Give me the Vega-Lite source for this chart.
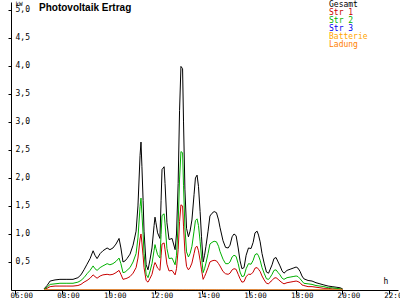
{
  "$schema": "https://vega.github.io/schema/vega-lite/v6.json",
  "autosize": "none",
  "width": 387,
  "height": 288,
  "padding": {"left": 11, "top": 2, "right": 2, "bottom": 10},
  "background": "white",
  "config": {
    "view": {"stroke": null},
    "font": "DejaVu Sans Mono",
    "axis": {"labelFont": "DejaVu Sans Mono", "titleFont": "DejaVu Sans Mono", "labelColor": "black", "titleColor": "black", "domainColor": "black", "tickColor": "black", "grid": false}
  },
  "title": {
    "text": "Photovoltaik Ertrag",
    "anchor": "start",
    "frame": "group",
    "font": "Liberation Sans",
    "fontSize": 10,
    "fontWeight": "bold",
    "color": "black",
    "offset": 0,
    "dx": 28,
    "dy": 13
  },
  "data": {
    "values": [
      {"t": 7.23, "Gesamt": 0.02, "Str 1": 0.01, "Str 2": 0.01, "Str 3": 0, "Batterie": 0, "Ladung": 0},
      {"t": 7.36, "Gesamt": 0.08, "Str 1": 0.03, "Str 2": 0.05, "Str 3": 0, "Batterie": 0, "Ladung": 0},
      {"t": 7.49, "Gesamt": 0.16, "Str 1": 0.06, "Str 2": 0.10, "Str 3": 0, "Batterie": 0, "Ladung": 0},
      {"t": 7.70, "Gesamt": 0.18, "Str 1": 0.07, "Str 2": 0.11, "Str 3": 0, "Batterie": 0, "Ladung": 0},
      {"t": 7.91, "Gesamt": 0.19, "Str 1": 0.07, "Str 2": 0.12, "Str 3": 0, "Batterie": 0, "Ladung": 0},
      {"t": 8.21, "Gesamt": 0.19, "Str 1": 0.07, "Str 2": 0.12, "Str 3": 0, "Batterie": 0, "Ladung": 0},
      {"t": 8.47, "Gesamt": 0.19, "Str 1": 0.07, "Str 2": 0.12, "Str 3": 0, "Batterie": 0, "Ladung": 0},
      {"t": 8.68, "Gesamt": 0.22, "Str 1": 0.08, "Str 2": 0.14, "Str 3": 0, "Batterie": 0, "Ladung": 0},
      {"t": 8.81, "Gesamt": 0.27, "Str 1": 0.10, "Str 2": 0.17, "Str 3": 0, "Batterie": 0, "Ladung": 0},
      {"t": 8.94, "Gesamt": 0.36, "Str 1": 0.14, "Str 2": 0.22, "Str 3": 0, "Batterie": 0, "Ladung": 0},
      {"t": 9.07, "Gesamt": 0.46, "Str 1": 0.17, "Str 2": 0.29, "Str 3": 0, "Batterie": 0, "Ladung": 0},
      {"t": 9.20, "Gesamt": 0.56, "Str 1": 0.21, "Str 2": 0.35, "Str 3": 0, "Batterie": 0, "Ladung": 0},
      {"t": 9.33, "Gesamt": 0.70, "Str 1": 0.27, "Str 2": 0.43, "Str 3": 0, "Batterie": 0, "Ladung": 0},
      {"t": 9.41, "Gesamt": 0.62, "Str 1": 0.24, "Str 2": 0.38, "Str 3": 0, "Batterie": 0, "Ladung": 0},
      {"t": 9.50, "Gesamt": 0.56, "Str 1": 0.21, "Str 2": 0.35, "Str 3": 0, "Batterie": 0, "Ladung": 0},
      {"t": 9.63, "Gesamt": 0.65, "Str 1": 0.25, "Str 2": 0.40, "Str 3": 0, "Batterie": 0, "Ladung": 0},
      {"t": 9.75, "Gesamt": 0.70, "Str 1": 0.27, "Str 2": 0.43, "Str 3": 0, "Batterie": 0, "Ladung": 0},
      {"t": 9.93, "Gesamt": 0.75, "Str 1": 0.28, "Str 2": 0.47, "Str 3": 0, "Batterie": 0, "Ladung": 0},
      {"t": 10.05, "Gesamt": 0.72, "Str 1": 0.27, "Str 2": 0.45, "Str 3": 0, "Batterie": 0, "Ladung": 0},
      {"t": 10.18, "Gesamt": 0.75, "Str 1": 0.28, "Str 2": 0.47, "Str 3": 0, "Batterie": 0, "Ladung": 0},
      {"t": 10.31, "Gesamt": 0.82, "Str 1": 0.31, "Str 2": 0.51, "Str 3": 0, "Batterie": 0, "Ladung": 0},
      {"t": 10.44, "Gesamt": 0.92, "Str 1": 0.35, "Str 2": 0.57, "Str 3": 0, "Batterie": 0, "Ladung": 0},
      {"t": 10.52, "Gesamt": 0.75, "Str 1": 0.28, "Str 2": 0.47, "Str 3": 0, "Batterie": 0, "Ladung": 0},
      {"t": 10.61, "Gesamt": 0.50, "Str 1": 0.19, "Str 2": 0.31, "Str 3": 0, "Batterie": 0, "Ladung": 0},
      {"t": 10.70, "Gesamt": 0.52, "Str 1": 0.20, "Str 2": 0.32, "Str 3": 0, "Batterie": 0, "Ladung": 0},
      {"t": 10.78, "Gesamt": 0.56, "Str 1": 0.21, "Str 2": 0.35, "Str 3": 0, "Batterie": 0, "Ladung": 0},
      {"t": 10.91, "Gesamt": 0.64, "Str 1": 0.24, "Str 2": 0.40, "Str 3": 0, "Batterie": 0, "Ladung": 0},
      {"t": 11.04, "Gesamt": 0.80, "Str 1": 0.30, "Str 2": 0.50, "Str 3": 0, "Batterie": 0, "Ladung": 0},
      {"t": 11.17, "Gesamt": 1.05, "Str 1": 0.40, "Str 2": 0.65, "Str 3": 0, "Batterie": 0, "Ladung": 0},
      {"t": 11.25, "Gesamt": 1.50, "Str 1": 0.57, "Str 2": 0.93, "Str 3": 0, "Batterie": 0, "Ladung": 0},
      {"t": 11.34, "Gesamt": 2.40, "Str 1": 0.91, "Str 2": 1.49, "Str 3": 0, "Batterie": 0, "Ladung": 0},
      {"t": 11.38, "Gesamt": 2.64, "Str 1": 1.00, "Str 2": 1.64, "Str 3": 0, "Batterie": 0, "Ladung": 0},
      {"t": 11.42, "Gesamt": 2.20, "Str 1": 0.84, "Str 2": 1.36, "Str 3": 0, "Batterie": 0, "Ladung": 0},
      {"t": 11.47, "Gesamt": 1.60, "Str 1": 0.61, "Str 2": 0.99, "Str 3": 0, "Batterie": 0, "Ladung": 0},
      {"t": 11.51, "Gesamt": 1.05, "Str 1": 0.40, "Str 2": 0.65, "Str 3": 0, "Batterie": 0, "Ladung": 0},
      {"t": 11.60, "Gesamt": 0.45, "Str 1": 0.17, "Str 2": 0.28, "Str 3": 0, "Batterie": 0, "Ladung": 0},
      {"t": 11.68, "Gesamt": 0.36, "Str 1": 0.14, "Str 2": 0.22, "Str 3": 0, "Batterie": 0, "Ladung": 0},
      {"t": 11.77, "Gesamt": 0.55, "Str 1": 0.21, "Str 2": 0.34, "Str 3": 0, "Batterie": 0, "Ladung": 0},
      {"t": 11.85, "Gesamt": 0.75, "Str 1": 0.28, "Str 2": 0.47, "Str 3": 0, "Batterie": 0, "Ladung": 0},
      {"t": 11.94, "Gesamt": 1.15, "Str 1": 0.44, "Str 2": 0.71, "Str 3": 0, "Batterie": 0, "Ladung": 0},
      {"t": 11.98, "Gesamt": 1.30, "Str 1": 0.49, "Str 2": 0.81, "Str 3": 0, "Batterie": 0, "Ladung": 0},
      {"t": 12.02, "Gesamt": 1.20, "Str 1": 0.46, "Str 2": 0.74, "Str 3": 0, "Batterie": 0, "Ladung": 0},
      {"t": 12.09, "Gesamt": 1.02, "Str 1": 0.39, "Str 2": 0.63, "Str 3": 0, "Batterie": 0, "Ladung": 0},
      {"t": 12.19, "Gesamt": 0.92, "Str 1": 0.35, "Str 2": 0.57, "Str 3": 0, "Batterie": 0, "Ladung": 0},
      {"t": 12.24, "Gesamt": 1.60, "Str 1": 0.61, "Str 2": 0.99, "Str 3": 0, "Batterie": 0, "Ladung": 0},
      {"t": 12.28, "Gesamt": 2.15, "Str 1": 0.82, "Str 2": 1.33, "Str 3": 0, "Batterie": 0, "Ladung": 0},
      {"t": 12.37, "Gesamt": 2.20, "Str 1": 0.84, "Str 2": 1.36, "Str 3": 0, "Batterie": 0, "Ladung": 0},
      {"t": 12.41, "Gesamt": 1.90, "Str 1": 0.72, "Str 2": 1.18, "Str 3": 0, "Batterie": 0, "Ladung": 0},
      {"t": 12.49, "Gesamt": 1.20, "Str 1": 0.46, "Str 2": 0.74, "Str 3": 0, "Batterie": 0, "Ladung": 0},
      {"t": 12.58, "Gesamt": 0.90, "Str 1": 0.34, "Str 2": 0.56, "Str 3": 0, "Batterie": 0, "Ladung": 0},
      {"t": 12.71, "Gesamt": 0.92, "Str 1": 0.35, "Str 2": 0.57, "Str 3": 0, "Batterie": 0, "Ladung": 0},
      {"t": 12.84, "Gesamt": 0.72, "Str 1": 0.27, "Str 2": 0.45, "Str 3": 0, "Batterie": 0, "Ladung": 0},
      {"t": 12.90, "Gesamt": 1.00, "Str 1": 0.38, "Str 2": 0.62, "Str 3": 0, "Batterie": 0, "Ladung": 0},
      {"t": 12.97, "Gesamt": 1.90, "Str 1": 0.72, "Str 2": 1.18, "Str 3": 0, "Batterie": 0, "Ladung": 0},
      {"t": 13.03, "Gesamt": 3.20, "Str 1": 1.22, "Str 2": 1.98, "Str 3": 0, "Batterie": 0, "Ladung": 0},
      {"t": 13.09, "Gesamt": 3.99, "Str 1": 1.52, "Str 2": 2.47, "Str 3": 0, "Batterie": 0, "Ladung": 0},
      {"t": 13.16, "Gesamt": 3.95, "Str 1": 1.50, "Str 2": 2.45, "Str 3": 0, "Batterie": 0, "Ladung": 0},
      {"t": 13.20, "Gesamt": 3.00, "Str 1": 1.14, "Str 2": 1.86, "Str 3": 0, "Batterie": 0, "Ladung": 0},
      {"t": 13.26, "Gesamt": 1.80, "Str 1": 0.68, "Str 2": 1.12, "Str 3": 0, "Batterie": 0, "Ladung": 0},
      {"t": 13.33, "Gesamt": 1.10, "Str 1": 0.42, "Str 2": 0.68, "Str 3": 0, "Batterie": 0, "Ladung": 0},
      {"t": 13.41, "Gesamt": 0.95, "Str 1": 0.36, "Str 2": 0.59, "Str 3": 0, "Batterie": 0, "Ladung": 0},
      {"t": 13.48, "Gesamt": 1.05, "Str 1": 0.40, "Str 2": 0.65, "Str 3": 0, "Batterie": 0, "Ladung": 0},
      {"t": 13.56, "Gesamt": 1.25, "Str 1": 0.48, "Str 2": 0.78, "Str 3": 0, "Batterie": 0, "Ladung": 0},
      {"t": 13.65, "Gesamt": 1.70, "Str 1": 0.65, "Str 2": 1.05, "Str 3": 0, "Batterie": 0, "Ladung": 0},
      {"t": 13.71, "Gesamt": 2.00, "Str 1": 0.76, "Str 2": 1.24, "Str 3": 0, "Batterie": 0, "Ladung": 0},
      {"t": 13.78, "Gesamt": 2.05, "Str 1": 0.78, "Str 2": 1.27, "Str 3": 0, "Batterie": 0, "Ladung": 0},
      {"t": 13.84, "Gesamt": 1.85, "Str 1": 0.70, "Str 2": 1.15, "Str 3": 0, "Batterie": 0, "Ladung": 0},
      {"t": 13.91, "Gesamt": 1.40, "Str 1": 0.53, "Str 2": 0.87, "Str 3": 0, "Batterie": 0, "Ladung": 0},
      {"t": 13.97, "Gesamt": 0.95, "Str 1": 0.36, "Str 2": 0.59, "Str 3": 0, "Batterie": 0, "Ladung": 0},
      {"t": 14.04, "Gesamt": 0.50, "Str 1": 0.19, "Str 2": 0.31, "Str 3": 0, "Batterie": 0, "Ladung": 0},
      {"t": 14.10, "Gesamt": 0.62, "Str 1": 0.24, "Str 2": 0.38, "Str 3": 0, "Batterie": 0, "Ladung": 0},
      {"t": 14.16, "Gesamt": 0.78, "Str 1": 0.30, "Str 2": 0.48, "Str 3": 0, "Batterie": 0, "Ladung": 0},
      {"t": 14.25, "Gesamt": 1.05, "Str 1": 0.40, "Str 2": 0.65, "Str 3": 0, "Batterie": 0, "Ladung": 0},
      {"t": 14.33, "Gesamt": 1.32, "Str 1": 0.50, "Str 2": 0.82, "Str 3": 0, "Batterie": 0, "Ladung": 0},
      {"t": 14.42, "Gesamt": 1.37, "Str 1": 0.52, "Str 2": 0.85, "Str 3": 0, "Batterie": 0, "Ladung": 0},
      {"t": 14.51, "Gesamt": 1.40, "Str 1": 0.53, "Str 2": 0.87, "Str 3": 0, "Batterie": 0, "Ladung": 0},
      {"t": 14.61, "Gesamt": 1.38, "Str 1": 0.52, "Str 2": 0.86, "Str 3": 0, "Batterie": 0, "Ladung": 0},
      {"t": 14.70, "Gesamt": 1.25, "Str 1": 0.47, "Str 2": 0.78, "Str 3": 0, "Batterie": 0, "Ladung": 0},
      {"t": 14.76, "Gesamt": 1.12, "Str 1": 0.43, "Str 2": 0.69, "Str 3": 0, "Batterie": 0, "Ladung": 0},
      {"t": 14.89, "Gesamt": 0.88, "Str 1": 0.33, "Str 2": 0.55, "Str 3": 0, "Batterie": 0, "Ladung": 0},
      {"t": 15.00, "Gesamt": 0.76, "Str 1": 0.29, "Str 2": 0.47, "Str 3": 0, "Batterie": 0, "Ladung": 0},
      {"t": 15.11, "Gesamt": 0.75, "Str 1": 0.28, "Str 2": 0.47, "Str 3": 0, "Batterie": 0, "Ladung": 0},
      {"t": 15.19, "Gesamt": 0.80, "Str 1": 0.30, "Str 2": 0.50, "Str 3": 0, "Batterie": 0, "Ladung": 0},
      {"t": 15.28, "Gesamt": 0.95, "Str 1": 0.36, "Str 2": 0.59, "Str 3": 0, "Batterie": 0, "Ladung": 0},
      {"t": 15.36, "Gesamt": 1.00, "Str 1": 0.38, "Str 2": 0.62, "Str 3": 0, "Batterie": 0, "Ladung": 0},
      {"t": 15.45, "Gesamt": 0.97, "Str 1": 0.37, "Str 2": 0.60, "Str 3": 0, "Batterie": 0, "Ladung": 0},
      {"t": 15.54, "Gesamt": 0.75, "Str 1": 0.28, "Str 2": 0.47, "Str 3": 0, "Batterie": 0, "Ladung": 0},
      {"t": 15.62, "Gesamt": 0.52, "Str 1": 0.20, "Str 2": 0.32, "Str 3": 0, "Batterie": 0, "Ladung": 0},
      {"t": 15.70, "Gesamt": 0.38, "Str 1": 0.14, "Str 2": 0.24, "Str 3": 0, "Batterie": 0, "Ladung": 0},
      {"t": 15.79, "Gesamt": 0.40, "Str 1": 0.15, "Str 2": 0.25, "Str 3": 0, "Batterie": 0, "Ladung": 0},
      {"t": 15.88, "Gesamt": 0.62, "Str 1": 0.24, "Str 2": 0.38, "Str 3": 0, "Batterie": 0, "Ladung": 0},
      {"t": 15.98, "Gesamt": 0.75, "Str 1": 0.28, "Str 2": 0.47, "Str 3": 0, "Batterie": 0, "Ladung": 0},
      {"t": 16.09, "Gesamt": 0.74, "Str 1": 0.28, "Str 2": 0.46, "Str 3": 0, "Batterie": 0, "Ladung": 0},
      {"t": 16.18, "Gesamt": 0.85, "Str 1": 0.32, "Str 2": 0.53, "Str 3": 0, "Batterie": 0, "Ladung": 0},
      {"t": 16.26, "Gesamt": 1.02, "Str 1": 0.39, "Str 2": 0.63, "Str 3": 0, "Batterie": 0, "Ladung": 0},
      {"t": 16.35, "Gesamt": 1.05, "Str 1": 0.40, "Str 2": 0.65, "Str 3": 0, "Batterie": 0, "Ladung": 0},
      {"t": 16.41, "Gesamt": 0.98, "Str 1": 0.37, "Str 2": 0.61, "Str 3": 0, "Batterie": 0, "Ladung": 0},
      {"t": 16.48, "Gesamt": 0.86, "Str 1": 0.33, "Str 2": 0.53, "Str 3": 0, "Batterie": 0, "Ladung": 0},
      {"t": 16.56, "Gesamt": 0.65, "Str 1": 0.25, "Str 2": 0.40, "Str 3": 0, "Batterie": 0, "Ladung": 0},
      {"t": 16.65, "Gesamt": 0.48, "Str 1": 0.18, "Str 2": 0.30, "Str 3": 0, "Batterie": 0, "Ladung": 0},
      {"t": 16.75, "Gesamt": 0.32, "Str 1": 0.12, "Str 2": 0.20, "Str 3": 0, "Batterie": 0, "Ladung": 0},
      {"t": 16.84, "Gesamt": 0.30, "Str 1": 0.11, "Str 2": 0.19, "Str 3": 0, "Batterie": 0, "Ladung": 0},
      {"t": 16.90, "Gesamt": 0.36, "Str 1": 0.14, "Str 2": 0.22, "Str 3": 0, "Batterie": 0, "Ladung": 0},
      {"t": 16.99, "Gesamt": 0.45, "Str 1": 0.17, "Str 2": 0.28, "Str 3": 0, "Batterie": 0, "Ladung": 0},
      {"t": 17.07, "Gesamt": 0.56, "Str 1": 0.21, "Str 2": 0.35, "Str 3": 0, "Batterie": 0, "Ladung": 0},
      {"t": 17.16, "Gesamt": 0.58, "Str 1": 0.22, "Str 2": 0.36, "Str 3": 0, "Batterie": 0, "Ladung": 0},
      {"t": 17.25, "Gesamt": 0.50, "Str 1": 0.19, "Str 2": 0.31, "Str 3": 0, "Batterie": 0, "Ladung": 0},
      {"t": 17.33, "Gesamt": 0.43, "Str 1": 0.16, "Str 2": 0.27, "Str 3": 0, "Batterie": 0, "Ladung": 0},
      {"t": 17.42, "Gesamt": 0.34, "Str 1": 0.13, "Str 2": 0.21, "Str 3": 0, "Batterie": 0, "Ladung": 0},
      {"t": 17.50, "Gesamt": 0.30, "Str 1": 0.11, "Str 2": 0.19, "Str 3": 0, "Batterie": 0, "Ladung": 0},
      {"t": 17.63, "Gesamt": 0.35, "Str 1": 0.13, "Str 2": 0.22, "Str 3": 0, "Batterie": 0, "Ladung": 0},
      {"t": 17.76, "Gesamt": 0.37, "Str 1": 0.14, "Str 2": 0.23, "Str 3": 0, "Batterie": 0, "Ladung": 0},
      {"t": 17.89, "Gesamt": 0.39, "Str 1": 0.15, "Str 2": 0.24, "Str 3": 0, "Batterie": 0, "Ladung": 0},
      {"t": 18.02, "Gesamt": 0.41, "Str 1": 0.16, "Str 2": 0.25, "Str 3": 0, "Batterie": 0, "Ladung": 0},
      {"t": 18.10, "Gesamt": 0.39, "Str 1": 0.15, "Str 2": 0.24, "Str 3": 0, "Batterie": 0, "Ladung": 0},
      {"t": 18.19, "Gesamt": 0.33, "Str 1": 0.13, "Str 2": 0.20, "Str 3": 0, "Batterie": 0, "Ladung": 0},
      {"t": 18.27, "Gesamt": 0.25, "Str 1": 0.09, "Str 2": 0.16, "Str 3": 0, "Batterie": 0, "Ladung": 0},
      {"t": 18.35, "Gesamt": 0.20, "Str 1": 0.08, "Str 2": 0.12, "Str 3": 0, "Batterie": 0, "Ladung": 0},
      {"t": 18.53, "Gesamt": 0.17, "Str 1": 0.06, "Str 2": 0.11, "Str 3": 0, "Batterie": 0, "Ladung": 0},
      {"t": 18.70, "Gesamt": 0.16, "Str 1": 0.06, "Str 2": 0.10, "Str 3": 0, "Batterie": 0, "Ladung": 0},
      {"t": 18.87, "Gesamt": 0.13, "Str 1": 0.05, "Str 2": 0.08, "Str 3": 0, "Batterie": 0, "Ladung": 0},
      {"t": 19.04, "Gesamt": 0.11, "Str 1": 0.04, "Str 2": 0.07, "Str 3": 0, "Batterie": 0, "Ladung": 0},
      {"t": 19.21, "Gesamt": 0.09, "Str 1": 0.03, "Str 2": 0.06, "Str 3": 0, "Batterie": 0, "Ladung": 0},
      {"t": 19.39, "Gesamt": 0.07, "Str 1": 0.03, "Str 2": 0.04, "Str 3": 0, "Batterie": 0, "Ladung": 0},
      {"t": 19.56, "Gesamt": 0.06, "Str 1": 0.02, "Str 2": 0.04, "Str 3": 0, "Batterie": 0, "Ladung": 0},
      {"t": 19.73, "Gesamt": 0.05, "Str 1": 0.02, "Str 2": 0.03, "Str 3": 0, "Batterie": 0, "Ladung": 0},
      {"t": 19.90, "Gesamt": 0.04, "Str 1": 0.02, "Str 2": 0.02, "Str 3": 0, "Batterie": 0, "Ladung": 0},
      {"t": 20.01, "Gesamt": 0.02, "Str 1": 0.01, "Str 2": 0.01, "Str 3": 0, "Batterie": 0, "Ladung": 0}
    ]
  },
  "transform": [
    {"fold": ["Gesamt", "Str 1", "Str 2", "Str 3", "Batterie", "Ladung"], "as": ["Serie", "kW"]}
  ],
  "mark": {"type": "line", "strokeWidth": 1, "clip": true},
  "encoding": {
    "x": {
      "field": "t",
      "type": "quantitative",
      "scale": {"domain": [5.816, 22.38], "nice": false, "zero": false},
      "axis": {
        "values": [6, 8, 10, 12, 14, 16, 18, 20, 22],
        "labelExpr": "(datum.value < 10 ? '0' : '') + datum.value + ':00'",
        "labelFontSize": 7.5,
        "labelBaseline": "top",
        "labelPadding": -3,
        "labelOffset": 6,
        "labelFlush": false,
        "labelOverlap": false,
        "tickSize": 4,
        "title": "h",
        "titleFontSize": 8,
        "titleFontWeight": "normal",
        "titleAngle": 0,
        "titleAlign": "left",
        "titleBaseline": "bottom",
        "titleX": 372,
        "titleY": -5
      }
    },
    "y": {
      "field": "kW",
      "type": "quantitative",
      "scale": {"domain": [0, 5.14], "nice": false},
      "axis": {
        "values": [0.5, 1, 1.5, 2, 2.5, 3, 3.5, 4, 4.5, 5],
        "labelExpr": "replace(format(datum.value, '.1f'), '.', ',')",
        "labelFontSize": 8,
        "labelAlign": "left",
        "labelBaseline": "middle",
        "labelPadding": -7,
        "tickSize": 3,
        "title": "kW",
        "titleFontSize": 6,
        "titleFontWeight": "normal",
        "titleAngle": 0,
        "titleAlign": "left",
        "titleBaseline": "top",
        "titleX": 4,
        "titleY": -2
      }
    },
    "color": {
      "field": "Serie",
      "type": "nominal",
      "scale": {
        "domain": ["Gesamt", "Str 1", "Str 2", "Str 3", "Batterie", "Ladung"],
        "range": ["#000000", "#C80000", "#00B000", "#0000F0", "#FFA500", "#FF8000"]
      },
      "legend": {
        "orient": "none",
        "legendX": 310,
        "legendY": -1,
        "title": null,
        "padding": 0,
        "rowPadding": 0,
        "symbolSize": 0,
        "symbolStrokeWidth": 0,
        "symbolOpacity": 0,
        "labelOffset": 0,
        "labelFont": "DejaVu Sans Mono",
        "labelFontSize": 8,
        "labelBaseline": "middle",
        "encode": {"labels": {"update": {"fill": {"scale": "color", "field": "value"}}}}
      }
    }
  }
}
